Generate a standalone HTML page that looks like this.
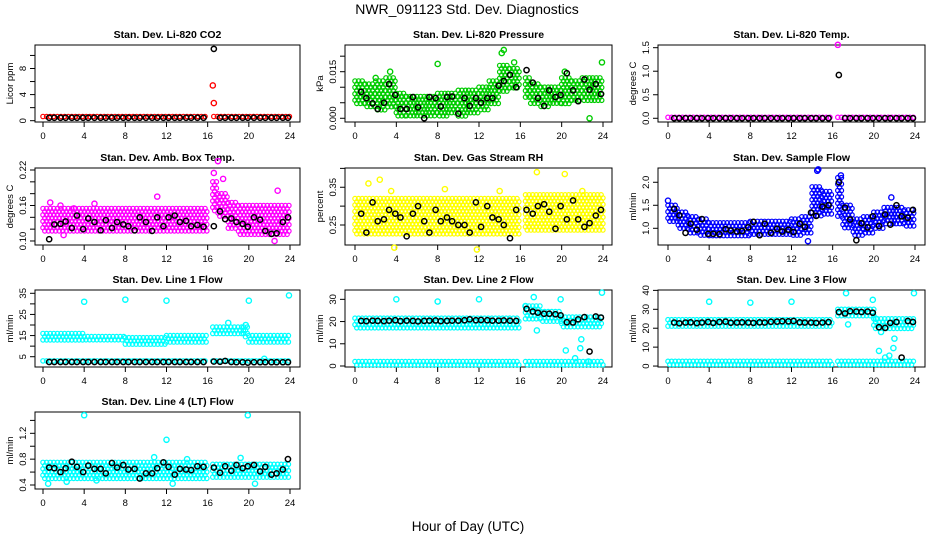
<!DOCTYPE html>
<html><head><meta charset="utf-8">
<style>
html,body{margin:0;padding:0;background:#fff;}
svg{display:block;font-family:"Liberation Sans",sans-serif;}
</style></head>
<body>
<svg id="chart" width="936" height="540" viewBox="0 0 936 540" xmlns="http://www.w3.org/2000/svg">
<text x="467" y="14" font-size="14" text-anchor="middle">NWR_091123  Std. Dev. Diagnostics</text>
<text x="468" y="531" font-size="13.5" text-anchor="middle">Hour of Day (UTC)</text>
</svg>
<script>
// shared hour categories for black (averaged) points
const blackHours = [0.6,1.1,1.7,2.2,2.8,3.3,3.9,4.4,5.0,5.6,6.1,6.7,7.2,7.8,8.3,8.9,9.4,10.0,10.6,11.1,11.7,12.2,12.8,13.3,13.9,14.4,15.0,15.6,16.6,17.2,17.7,18.3,18.8,19.4,19.9,20.5,21.1,21.6,22.2,22.7,23.3,23.8];
const xTicks = [0,4,8,12,16,20,24];

// --- CO2 ---
const co2Band = [[0,16,0.25,0.65],[16.6,24,0.25,0.65]];
const co2Black = [0.45,0.45,0.45,0.45,0.45,0.45,0.45,0.45,0.45,0.45,0.45,0.45,0.45,0.45,0.45,0.45,0.45,0.45,0.45,0.45,0.45,0.45,0.45,0.45,0.45,0.45,0.45,0.45,11.0,0.45,0.45,0.45,0.45,0.45,0.45,0.45,0.45,0.45,0.45,0.45,0.45,0.45];
const co2OutX = [16.5,16.6];
const co2OutY = [5.4,2.7];
// --- Pressure ---
const presBand = [[0,1,0.004,0.012],[1,2,0.003,0.011],[2,3,0.002,0.012],[3,4,0.003,0.013],[4,5,0.0,0.008],[5,6,0.0,0.007],[6,7,0.0,0.007],[7,8,0.0,0.007],[8,9,0.0,0.008],[9,10,0.001,0.008],[10,11,0.0,0.009],[11,12,0.001,0.009],[12,13,0.002,0.010],[13,14,0.004,0.012],[14,15,0.008,0.017],[15,16,0.009,0.016],[16.5,17,0.006,0.013],[17,18,0.004,0.011],[18,19,0.003,0.010],[19,20,0.004,0.010],[20,21,0.004,0.013],[21,22,0.005,0.012],[22,23,0.005,0.013],[23,24,0.005,0.013]];
const presBlack = [0.0085,0.0065,0.0048,0.003,0.005,0.011,0.0075,0.003,0.003,0.0068,0.0035,0.0,0.0068,0.0065,0.0038,0.0068,0.007,0.0015,0.0065,0.004,0.0065,0.005,0.0065,0.0065,0.0105,0.012,0.014,0.010,0.0155,0.0115,0.0065,0.004,0.009,0.0068,0.0075,0.0145,0.009,0.0055,0.0125,0.0092,0.011,0.0078];
const presOutX = [8.0,14.2,14.4,23.9,2.0,3.4,15.4,20.3,22.7];
const presOutY = [0.0175,0.021,0.022,0.018,0.013,0.015,0.018,0.015,0.0];
// --- Li-820 Temp ---
const tempBand = [[0,16,-0.01,0.02],[16.5,24,-0.01,0.02]];
const tempBlack = [0,0,0,0,0,0,0,0,0,0,0,0,0,0,0,0,0,0,0,0,0,0,0,0,0,0,0,0,0.92,0,0,0,0,0,0,0,0,0,0,0,0,0];
const tempOutX = [16.5];
const tempOutY = [1.56];
// --- Amb Box Temp ---
const ambBand = [[0,16,0.115,0.155],[16.5,17,0.15,0.20],[17,18,0.14,0.18],[18,19,0.12,0.165],[19,24,0.11,0.16]];
const ambBlack = [0.103,0.128,0.129,0.133,0.122,0.143,0.12,0.138,0.132,0.118,0.135,0.122,0.132,0.128,0.125,0.118,0.14,0.132,0.117,0.14,0.125,0.14,0.143,0.132,0.134,0.125,0.127,0.124,0.125,0.15,0.137,0.138,0.132,0.129,0.124,0.14,0.136,0.117,0.112,0.113,0.132,0.14];
const ambOutX = [0.7,1.7,11.1,17.0,16.6,17.5,22.8,22.5,2.0,5.0,3.0];
const ambOutY = [0.165,0.16,0.175,0.235,0.215,0.205,0.185,0.10,0.11,0.163,0.155];
// --- Gas Stream RH ---
const rhBand = [[0,16,0.225,0.32],[16.5,24,0.23,0.33]];
const rhBlack = [0.28,0.23,0.31,0.26,0.265,0.29,0.28,0.27,0.22,0.28,0.30,0.26,0.23,0.29,0.26,0.27,0.26,0.25,0.25,0.23,0.31,0.245,0.30,0.27,0.265,0.25,0.215,0.29,0.29,0.28,0.30,0.305,0.285,0.24,0.30,0.265,0.315,0.265,0.245,0.255,0.275,0.29];
const rhOutX = [1.3,2.4,3.5,8.7,17.6,20.3,11.8,3.8,22.0,14.0];
const rhOutY = [0.36,0.37,0.34,0.345,0.39,0.385,0.185,0.19,0.34,0.34];
// --- Sample Flow ---
const sfBand = [[0,1,1.15,1.5],[1,2,1.0,1.35],[2,3,0.9,1.25],[3,4,0.85,1.2],[4,8,0.82,1.12],[8,12,0.85,1.15],[12,13,0.85,1.2],[13,14,0.9,1.25],[14,15,1.25,1.9],[15,16,1.3,1.8],[16.5,17,1.2,2.1],[17,18,0.95,1.5],[18,19,0.85,1.2],[19,20,0.9,1.25],[20,21,1.0,1.35],[21,22,1.05,1.45],[22,23,1.1,1.45],[23,24,1.05,1.4]];
const sfBlack = [1.42,1.28,0.9,1.1,0.97,1.2,0.88,0.88,0.87,0.98,0.95,0.93,0.94,1.02,1.14,0.85,1.1,0.9,0.99,0.93,0.97,0.92,1.1,1.03,1.34,1.27,1.47,1.5,2.0,1.45,1.19,0.74,1.11,1.02,1.26,1.05,1.3,1.08,1.5,1.26,1.23,1.4];
const sfOutX = [14.5,16.8,13.6,0.0,21.7,14.6];
const sfOutY = [2.25,2.15,0.72,1.6,1.67,2.28];
// --- Line 1 ---
const l1Band = [[0,4,12.5,16],[4,8,11.5,14.5],[8,12,10.5,14],[12,16,11.5,15],[16.5,19.5,15,19],[19.5,20,14,19],[20,24,11.5,15],[0,16,1.5,3],[16.5,24,1.5,3]];
const l1Black = [2.5,2.5,2.5,2.5,2.5,2.5,2.5,2.5,2.5,2.5,2.5,2.5,2.5,2.5,2.5,2.5,2.5,2.5,2.5,2.5,2.5,2.5,2.5,2.5,2.5,2.5,2.5,2.5,2.7,2.6,3.0,2.5,2.4,2.4,2.2,2.4,2.4,2.4,2.4,2.4,2.4,2.4];
const l1OutX = [4,8,12,20,23.9,18,19.7,21.5];
const l1OutY = [31,32,31.5,31.5,34,21,20,4];
// --- Line 2 ---
const l2Band = [[0,16,16,21.5],[16.5,18,21,27],[18,20,20,24.5],[20,24,16.5,22],[0,16,0,2],[16.5,24,0,2]];
const l2Black = [20.3,20.2,20.4,20.3,20.2,20.4,20.6,20.2,20.4,20.3,20.1,20.3,20.4,20.5,20.2,20.3,20.4,20.4,20.6,21.0,20.6,20.7,20.6,20.4,20.4,20.5,20.4,20.3,25.7,24.5,24,23.5,23.5,23.3,22.8,19.7,19.6,21,22,6.5,22.3,21.8];
const l2OutX = [4,8,12,17.3,19.9,23.9,17.6,20.4,21.3,21.8,21.9,22.6,16.5];
const l2OutY = [30,29,30,31,30,33,16,7,3.5,8,12,2,27];
// --- Line 3 ---
const l3Band = [[0,16,21,24.5],[16.5,20,26,30],[20,24,19,25],[0,16,0.5,2.5],[16.5,24,0.5,2.5]];
const l3Black = [23.0,22.6,23.0,23.1,22.7,23.0,23.3,22.8,23.3,23.5,22.9,23.0,23.1,23.0,22.8,23.1,23.0,23.4,23.5,23.7,23.6,23.8,23.1,23.0,23.0,22.8,23.0,23.2,28.5,27.8,29,28.8,28.6,28.8,28.2,20.5,20.2,22.8,23.3,4.5,23.8,23.3];
const l3OutX = [4,8,12,17.3,17.5,19.9,20.2,20.5,20.7,21.1,21.5,21.9,22.0,23.9];
const l3OutY = [34,33.5,34,38.5,22,35,25,8,18,4.5,5.5,9.5,14.5,38.5];
// --- Line 4 ---
const l4Band = [[0,16,0.5,0.75],[16.5,24,0.5,0.72]];
const l4Black = [0.67,0.66,0.6,0.66,0.76,0.68,0.6,0.7,0.65,0.65,0.58,0.74,0.67,0.71,0.64,0.65,0.5,0.58,0.58,0.66,0.75,0.68,0.56,0.65,0.64,0.63,0.69,0.68,0.67,0.59,0.69,0.62,0.71,0.66,0.69,0.71,0.61,0.68,0.56,0.58,0.64,0.8];
const l4OutX = [4,12,19.9,0.5,2.3,12.6,20.6,10.8,19.2,5.2,14.0];
const l4OutY = [1.48,1.1,1.48,0.42,0.45,0.42,0.42,0.83,0.82,0.47,0.8];

const NS = "http://www.w3.org/2000/svg";
const svg = document.getElementById('chart');
function mk(tag, attrs, parent){const e=document.createElementNS(NS,tag);for(const k in attrs)e.setAttribute(k,attrs[k]);(parent||svg).appendChild(e);return e;}

const cols = [{l:35,r:300,x0:43,x24:290},{l:345,r:612,x0:355,x24:603},{l:658,r:925,x0:668,x24:915}];
const rows = [{t:45,b:122},{t:168,b:245},{t:290,b:367},{t:412,b:489}];

function panel(o){
  const c=cols[o.col], r=rows[o.row];
  const g=mk('g',{});
  
  
  const xs=h=>c.x0+(c.x24-c.x0)*h/24;
  const ys=v=>r.b-(v-o.lo)/(o.hi-o.lo)*(r.b-r.t);
  const t=mk('text',{x:(c.l+c.r)/2,y:r.t-7,'font-size':'10.5','font-weight':'bold','text-anchor':'middle'},g);
  t.textContent=o.title;
  
  
  const bx=mk('rect',{x:c.l,y:r.t,width:c.r-c.l,height:r.b-r.t,fill:'none',stroke:'#000','stroke-width':'1'},g);
  
  
  xTicks.forEach(h=>{
    mk('line',{x1:xs(h),x2:xs(h),y1:r.b,y2:r.b+5,stroke:'#000'},g);
    const tl=mk('text',{x:xs(h),y:r.b+17,'font-size':'9.5','text-anchor':'middle'},g);
    tl.textContent=h;
    
    
  });
  o.ticks.forEach(v=>{
    const y=ys(v);
    mk('line',{x1:c.l-5,x2:c.l,y1:y,y2:y,stroke:'#000'},g);
  });
  o.labels.forEach((lab,i)=>{
    const y=ys(o.labelVals[i]);
    const tl=mk('text',{x:c.l-9,y:y,'font-size':'9.5','text-anchor':'middle',transform:`rotate(-90 ${c.l-9} ${y})`},g);
    tl.textContent=lab;
    
    
  });
  const yt=mk('text',{x:c.l-22,y:(r.t+r.b)/2,'font-size':'9.5','text-anchor':'middle',transform:`rotate(-90 ${c.l-22} ${(r.t+r.b)/2})`},g);
  yt.textContent=o.ylab;
  
  
  // bands drawn as a lattice of open circles
  o.band.forEach(b=>{
    const x1=xs(b[0]), x2=xs(b[1]), y1=ys(b[3]), y2=ys(b[2]);
    const cg=mk('g',{fill:'none',stroke:o.color,'stroke-width':'1.2'},g);
    
    
    let row=0;
    for(let y=y1;y<=y2+0.01;y+=3.2,row++){
      const off=(row%2)*1.8;
      for(let x=x1+off;x<=x2+0.01;x+=3.6){
        mk('circle',{cx:x.toFixed(1),cy:y.toFixed(1),r:2.2},cg);
      }
    }
  });
  o.outX.forEach((h,i)=>{
    const p=mk('circle',{cx:xs(h),cy:ys(o.outY[i]),r:2.6,fill:'none',stroke:o.color,'stroke-width':'1.4'},g);
    
    
  });
  blackHours.forEach((h,i)=>{
    const p=mk('circle',{cx:xs(h),cy:ys(o.black[i]),r:2.6,fill:'none',stroke:'#000','stroke-width':'1.5'},g);
    
    
  });
}
function rng(a,b,s){const o=[];for(let v=a;v<=b+1e-9;v+=s)o.push(+v.toFixed(4));return o;}

panel({name:'panel-co2',col:0,row:0,title:'Stan. Dev. Li-820 CO2',ylab:'Licor ppm',lo:-0.2,hi:11.6,color:'#ff0000',ticks:rng(0,10,2),labels:['0','4','8'],labelVals:[0,4,8],band:co2Band,black:co2Black,outX:co2OutX,outY:co2OutY});
panel({name:'panel-pressure',col:1,row:0,title:'Stan. Dev. Li-820 Pressure',ylab:'kPa',lo:-0.0012,hi:0.0236,color:'#00cc00',ticks:rng(0,0.02,0.005),labels:['0.000','0.015'],labelVals:[0,0.015],band:presBand,black:presBlack,outX:presOutX,outY:presOutY});
panel({name:'panel-li820-temp',col:2,row:0,title:'Stan. Dev. Li-820 Temp.',ylab:'degrees C',lo:-0.079,hi:1.557,color:'#ff00ff',ticks:rng(0,1.5,0.5),labels:['0.0','0.5','1.0','1.5'],labelVals:[0,0.5,1,1.5],band:tempBand,black:tempBlack,outX:tempOutX,outY:tempOutY});
panel({name:'panel-amb-temp',col:0,row:1,title:'Stan. Dev. Amb. Box Temp.',ylab:'degrees C',lo:0.0932,hi:0.2234,color:'#ff00ff',ticks:rng(0.10,0.22,0.02),labels:['0.10','0.16','0.22'],labelVals:[0.10,0.16,0.22],band:ambBand,black:ambBlack,outX:ambOutX,outY:ambOutY});
panel({name:'panel-rh',col:1,row:1,title:'Stan. Dev. Gas Stream RH',ylab:'percent',lo:0.197,hi:0.401,color:'#ffff00',ticks:rng(0.25,0.40,0.05),labels:['0.25','0.35'],labelVals:[0.25,0.35],band:rhBand,black:rhBlack,outX:rhOutX,outY:rhOutY});
panel({name:'panel-sample-flow',col:2,row:1,title:'Stan. Dev. Sample Flow',ylab:'ml/min',lo:0.637,hi:2.31,color:'#0000ff',ticks:rng(1,2,0.5),labels:['1.0','1.5','2.0'],labelVals:[1,1.5,2],band:sfBand,black:sfBlack,outX:sfOutX,outY:sfOutY});
panel({name:'panel-line1',col:0,row:2,title:'Stan. Dev. Line 1 Flow',ylab:'ml/min',lo:0.13,hi:36.56,color:'#00ffff',ticks:rng(5,35,5),labels:['5','15','25','35'],labelVals:[5,15,25,35],band:l1Band,black:l1Black,outX:l1OutX,outY:l1OutY});
panel({name:'panel-line2',col:1,row:2,title:'Stan. Dev. Line 2 Flow',ylab:'ml/min',lo:-0.45,hi:34.2,color:'#00ffff',ticks:rng(0,30,10),labels:['0','10','20','30'],labelVals:[0,10,20,30],band:l2Band,black:l2Black,outX:l2OutX,outY:l2OutY});
panel({name:'panel-line3',col:2,row:2,title:'Stan. Dev. Line 3 Flow',ylab:'ml/min',lo:-0.5,hi:40.2,color:'#00ffff',ticks:rng(0,40,10),labels:['0','10','20','30','40'],labelVals:[0,10,20,30,40],band:l3Band,black:l3Black,outX:l3OutX,outY:l3OutY});
panel({name:'panel-line4',col:0,row:3,title:'Stan. Dev. Line 4 (LT) Flow',ylab:'ml/min',lo:0.338,hi:1.53,color:'#00ffff',ticks:rng(0.4,1.4,0.2),labels:['0.4','0.8','1.2'],labelVals:[0.4,0.8,1.2],band:l4Band,black:l4Black,outX:l4OutX,outY:l4OutY});
</script>
</body></html>
